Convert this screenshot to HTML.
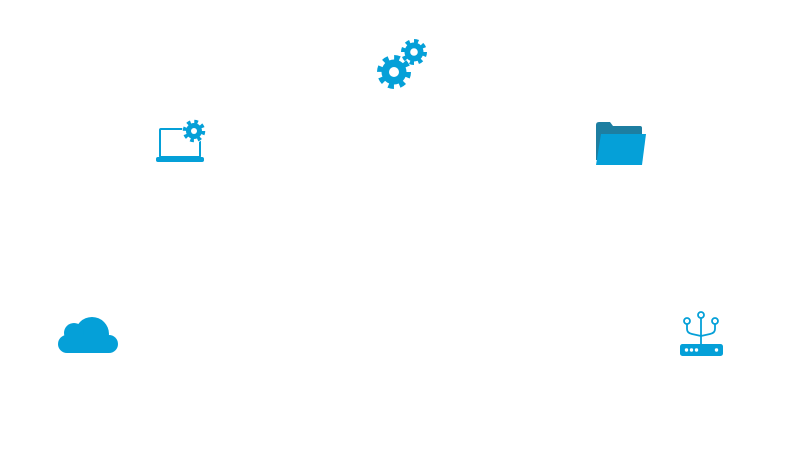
<!DOCTYPE html>
<html><head><meta charset="utf-8"><style>html,body{margin:0;padding:0;background:#fff}svg{display:block}</style></head>
<body>
<svg width="802" height="466" viewBox="0 0 802 466" xmlns="http://www.w3.org/2000/svg">
<g fill="#05a0d8">
  <!-- big gear -->
  <circle cx="394" cy="72" r="12.5"/>
  <circle cx="394" cy="72" r="14" fill="none" stroke="#05a0d8" stroke-width="6" stroke-dasharray="5.5 5.5"/>
  <circle cx="394" cy="72" r="5" fill="#fff"/>
  <!-- small gear -->
  <circle cx="414" cy="52" r="9.5"/>
  <circle cx="414" cy="52" r="10.5" fill="none" stroke="#05a0d8" stroke-width="5" stroke-dasharray="4.1 4.1"/>
  <circle cx="414" cy="52" r="3.8" fill="#fff"/>

  <!-- laptop -->
  <rect x="160" y="129" width="40" height="28" fill="none" stroke="#05a0d8" stroke-width="2" rx="1"/>
  <rect x="156" y="157" width="48" height="5" rx="2"/>
  <circle cx="194" cy="131" r="12" fill="#fff"/>
  <circle cx="194" cy="131" r="8"/>
  <circle cx="194" cy="131" r="9" fill="none" stroke="#05a0d8" stroke-width="4.5" stroke-dasharray="3.5 3.57"/>
  <circle cx="194" cy="131" r="3" fill="#fff"/>

  <!-- folder -->
  <path d="M596 125 Q596 122 599 122 L610 122 L613 126 L640 126 Q642 126 642 128 L642 160 L596 160 Z" fill="#1d7ea1"/>
  <path d="M601 134 L646 134 L642 165 L596 165 Z" fill="#05a0d8"/>

  <!-- cloud -->
  <circle cx="92" cy="334" r="17"/>
  <circle cx="74" cy="333" r="10"/>
  <rect x="58" y="335" width="60" height="18" rx="9"/>

  <!-- router -->
  <rect x="680" y="344" width="43" height="12" rx="2.5"/>
  <circle cx="686.5" cy="350" r="1.7" fill="#fff"/>
  <circle cx="691.5" cy="350" r="1.7" fill="#fff"/>
  <circle cx="696.5" cy="350" r="1.7" fill="#fff"/>
  <circle cx="716.5" cy="350" r="1.7" fill="#fff"/>
  <g fill="none" stroke="#05a0d8" stroke-width="1.8">
    <circle cx="687" cy="321" r="3"/>
    <circle cx="701" cy="315" r="3"/>
    <circle cx="715" cy="321" r="3"/>
    <line x1="701" y1="318" x2="701" y2="344"/>
    <path d="M687 324 L687 329 Q687 333 692 334 L701 336"/>
    <path d="M715 324 L715 329 Q715 333 710 334 L701 336"/>
  </g>
</g>
</svg>
</body></html>
